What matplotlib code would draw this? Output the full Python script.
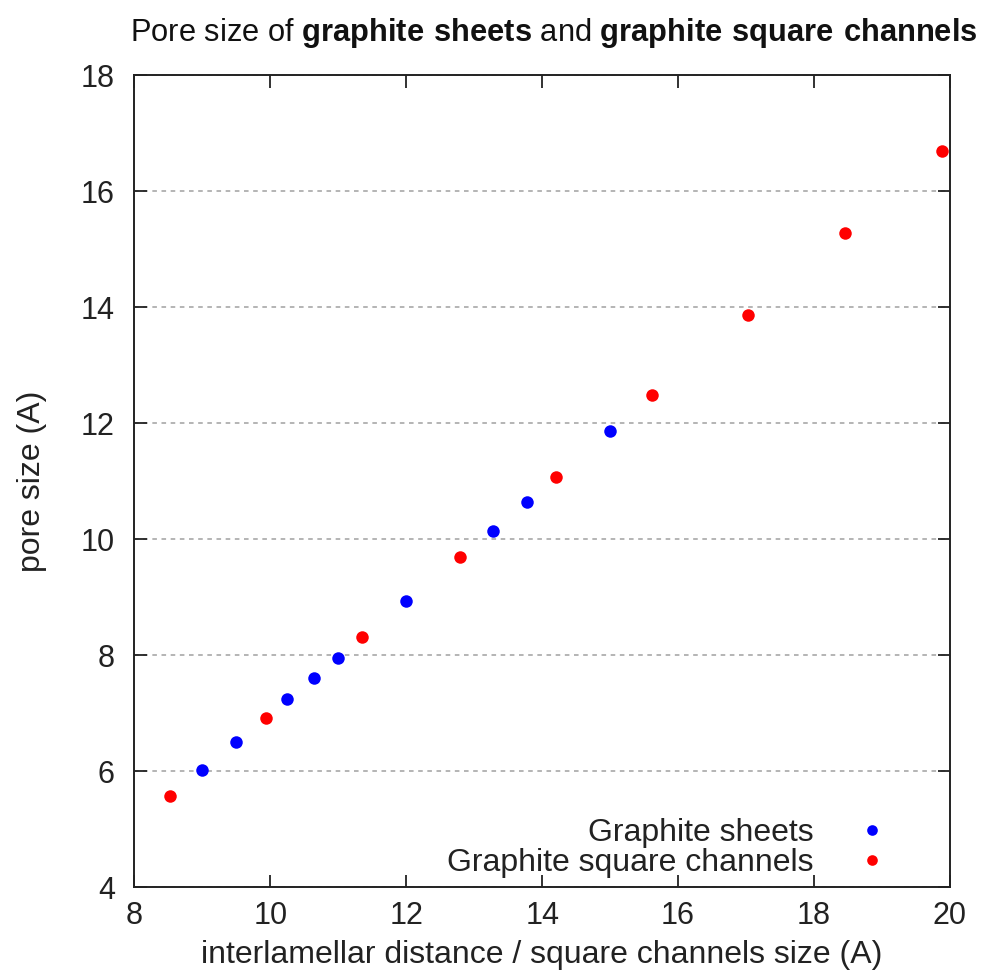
import matplotlib
matplotlib.use("Agg")
import matplotlib.pyplot as plt

plt.rcParams['font.family'] = ['Liberation Sans', 'DejaVu Sans']
plt.rcParams['mathtext.fontset'] = 'custom'
plt.rcParams['mathtext.rm'] = 'Liberation Sans'
plt.rcParams['mathtext.bf'] = 'Liberation Sans:bold'

# Graphite sheets: interlamellar distance vs pore size
sheets_x = [9.0, 9.5, 10.25, 10.65, 11.0, 12.0, 13.27, 13.77, 15.0]
sheets_y = [6.02, 6.51, 7.24, 7.61, 7.96, 8.93, 10.14, 10.65, 11.86]

# Graphite square channels: channel size vs pore size
channels_x = [8.52, 9.93, 11.35, 12.79, 14.2, 15.62, 17.03, 18.46, 19.88]
channels_y = [5.58, 6.92, 8.31, 9.69, 11.07, 12.49, 13.86, 15.28, 16.69]

x_ticks = [8, 10, 12, 14, 16, 18, 20]
y_ticks = [4, 6, 8, 10, 12, 14, 16, 18]

fig = plt.figure(figsize=(9.83, 9.76), dpi=100)
ax = fig.add_axes([0.1367, 0.0909, 0.8297, 0.8319])

ax.plot(sheets_x, sheets_y, linestyle='none', marker='o', markersize=9,
        color='#0000ff', markeredgewidth=0, label='Graphite sheets')
ax.plot(channels_x, channels_y, linestyle='none', marker='o', markersize=9,
        color='#ff0000', markeredgewidth=0, label='Graphite square channels')

ax.set_xlim(8, 20)
ax.set_ylim(4, 18)
ax.set_xticks(x_ticks)
ax.set_yticks(y_ticks)

ax.yaxis.grid(True, linestyle=(0, (3, 3)), color='#a0a0a0', linewidth=1.1)
ax.set_axisbelow(True)

ax.tick_params(direction='in', length=9, width=1.3, top=True, right=True,
               labelsize=22, pad=10, colors='#222222')
ax.tick_params(axis='y', pad=14)
for sp in ax.spines.values():
    sp.set_linewidth(1.4)
    sp.set_color('#222222')

ax.set_xlabel('interlamellar distance / square channels size (A)', fontsize=23,
              labelpad=6, color='#222222')
ax.set_ylabel('pore size (A)', fontsize=23, labelpad=24, color='#222222')

ax.set_title(r'Pore size of $\mathbf{graphite\ sheets}$ and $\mathbf{graphite\ square\ channels}$',
             fontsize=22.2, pad=25, color='#111111', x=0.5145)

leg = ax.legend(loc='lower right', markerfirst=False, frameon=False, fontsize=23,
                handlelength=0.8, handletextpad=1.45, labelspacing=0.0,
                borderaxespad=0.3, markerscale=0.85, bbox_to_anchor=(0.948, -0.016))
for t in leg.get_texts():
    t.set_color('#222222')

fig.savefig('out.png', dpi=100)
